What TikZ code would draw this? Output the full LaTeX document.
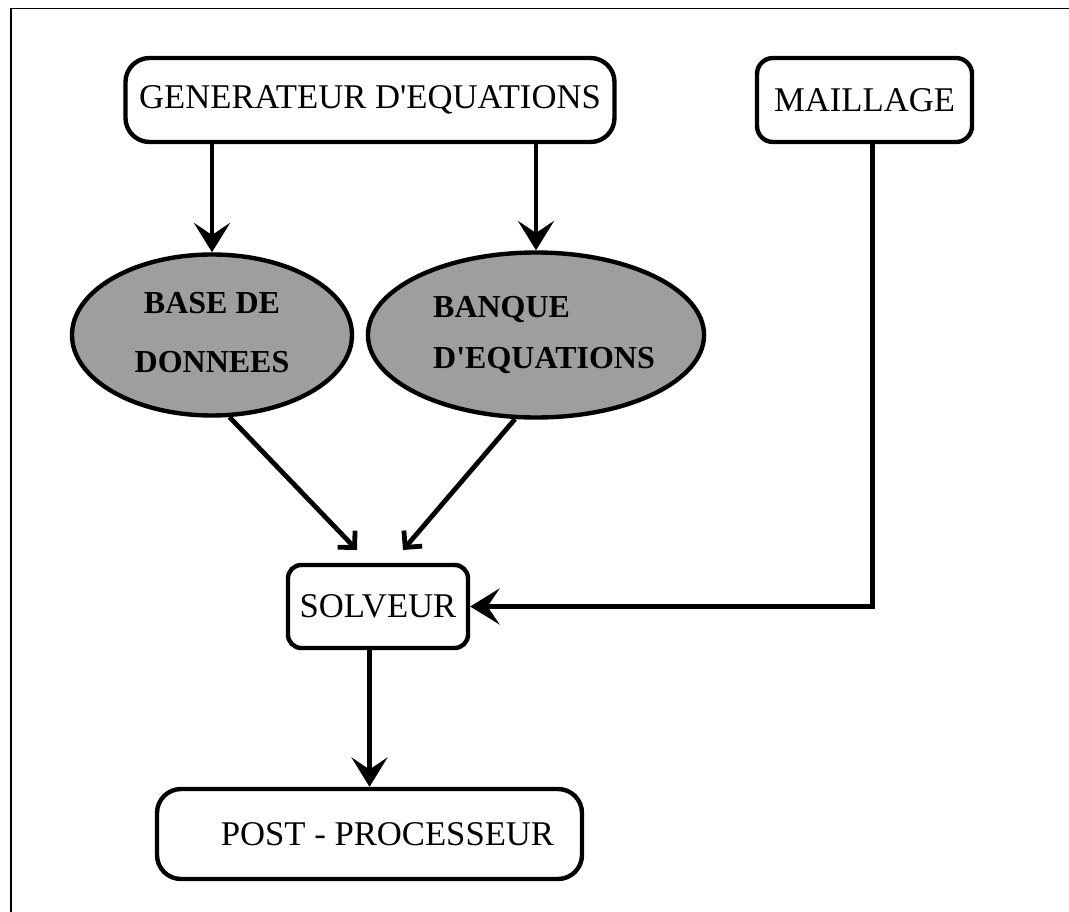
\documentclass[tikz,border=0pt]{standalone}
\usepackage{fontspec}
\setmainfont{Liberation Serif}
\usetikzlibrary{arrows.meta,shapes.geometric}
\begin{document}
\begin{tikzpicture}[x=0.75pt,y=-0.75pt,
  box/.style={draw, line width=3.3pt, inner sep=0pt, font=\fontsize{26}{30}\selectfont},
  oval/.style={ellipse, draw, line width=3.3pt, fill=black!38, inner sep=0pt, font=\fontsize{24}{30}\selectfont\bfseries},
  arr/.style={line width=3.6pt, -{Stealth[length=22pt,width=27pt,inset=9pt]}},
  darr/.style={line width=3.6pt, -{Straight Barb[length=9pt,width=18pt]}},
]
\useasboundingbox (0,0) rectangle (1069,912);
\draw[line width=1.2pt] (11,912) -- (11,8.5) -- (1069,8.5);

\node[box, rounded corners=18pt, minimum width=366.75pt, minimum height=63pt] (gen) at (370,100) {GENERATEUR D\textquotesingle EQUATIONS};
\node[box, rounded corners=12pt, minimum width=161.25pt, minimum height=63pt] (mail) at (864.5,100) {MAILLAGE};
\node[oval, minimum width=210pt, minimum height=120.75pt, align=center] (b1) at (212,335) {\raisebox{-10pt}{\begin{tabular}{@{}c@{}}BASE DE\\[14pt]DONNEES\end{tabular}}};
\node[oval, minimum width=196.5pt, minimum height=123.75pt] (b2) at (536,335) {\hspace*{12pt}\begin{tabular}{@{}l@{}}BANQUE\\[8pt]D\textquotesingle EQUATIONS\end{tabular}};
\node[box, rounded corners=10pt, minimum width=135pt, minimum height=62.25pt] (solv) at (378,606.5) {SOLVEUR};
\node[box, rounded corners=18pt, minimum width=318.75pt, minimum height=67.5pt] (post) at (369.5,834) {\hspace*{27pt}POST - PROCESSEUR};

\coordinate (t1) at (357,550);
\coordinate (t2) at (403,550);

\draw[arr] (gen.south -| b1.north) -- (b1.north);
\draw[arr] (gen.south -| b2.north) -- (b2.north);
\draw[darr] (b1.-78) -- (t1);
\draw[darr] (b2.-104) -- (t2);
\draw[arr] ([xshift=6pt]mail.south) |- (solv.east);
\draw[arr] (solv.south -| post.north) -- (post.north);
\end{tikzpicture}
\end{document}
